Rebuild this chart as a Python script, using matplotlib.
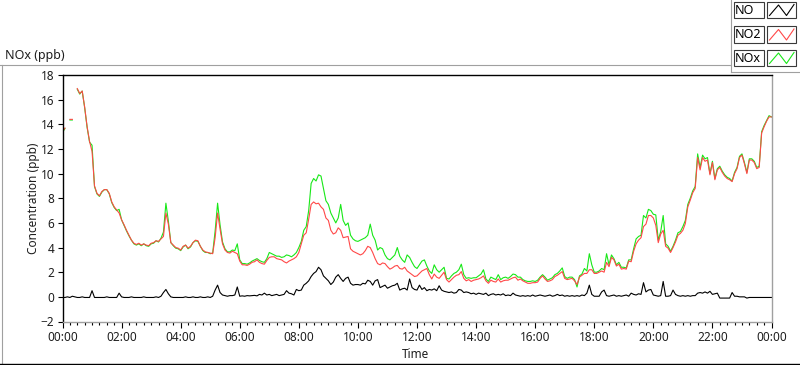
import numpy as np
import matplotlib.pyplot as plt
from matplotlib.lines import Line2D
from matplotlib.patches import Rectangle

plt.rcParams['font.family'] = ['Noto Sans', 'DejaVu Sans']

nan = np.nan

# one reading every 5 minutes, 00:00 .. 24:00 (one row = one hour)
minutes = np.arange(0, 1441, 5)

no2 = [
    13.4, 13.7, nan, 14.4, 14.4, nan, 16.9, 16.5, 16.7, 15.4, 13.8, 12.6,
    11.8, 9.0, 8.4, 8.2, 8.55, 8.7, 8.7, 8.4, 7.7, 7.3, 7.05, 6.8,
    6.25, 5.85, 5.4, 5.0, 4.6, 4.35, 4.25, 4.35, 4.2, 4.3, 4.2, 4.15,
    4.35, 4.4, 4.55, 4.5, 4.7, 4.9, 6.8, 5.9, 4.4, 4.2, 4.0, 3.95,
    3.8, 4.1, 4.2, 3.95, 4.1, 4.4, 4.6, 4.55, 4.1, 3.8, 3.65, 3.6,
    3.55, 3.5, 4.8, 6.8, 5.5, 4.3, 3.8, 3.6, 3.55, 3.7, 3.6, 3.5,
    2.9, 2.6, 2.6, 2.55, 2.65, 2.8, 2.85, 3.0, 2.8, 2.7, 2.65, 2.95,
    3.2, 3.25, 3.25, 3.1, 3.05, 3.0, 2.85, 2.75, 2.9, 3.0, 3.1, 3.25,
    3.6, 4.3, 5.0, 5.2, 6.3, 7.5, 7.7, 7.55, 7.6, 7.3, 7.1, 6.4,
    6.2, 5.4, 5.1, 5.2, 5.6, 5.4, 4.8, 4.85, 4.9, 3.9, 3.7, 3.6,
    3.5, 3.4, 3.5, 3.75, 4.1, 4.0, 3.6, 3.1, 2.7, 2.6, 2.75, 2.7,
    2.45, 2.25, 2.35, 2.5, 2.55, 2.3, 2.25, 2.4, 2.1, 1.95, 1.8, 1.65,
    1.7, 1.9, 2.1, 2.2, 2.3, 1.8, 1.45, 1.85, 1.6, 1.5, 1.75, 2.0,
    1.4, 1.2, 1.4, 1.6, 1.75, 1.8, 2.05, 1.5, 1.3, 1.4, 1.25, 1.35,
    1.4, 1.45, 1.55, 1.7, 1.3, 1.1, 1.35, 1.25, 1.2, 1.45, 1.2, 1.3,
    1.35, 1.35, 1.45, 1.55, 1.6, 1.35, 1.45, 1.3, 1.2, 1.1, 1.1, 1.15,
    1.15, 1.2, 1.5, 1.7, 1.45, 1.25, 1.3, 1.4, 1.65, 1.75, 1.9, 2.05,
    1.5, 1.4, 1.45, 1.5, 1.3, 1.0, 1.6, 1.75, 1.9, 1.9, 2.2, 2.2,
    1.9, 1.9, 2.0, 2.1, 2.0, 2.8, 2.45, 3.2, 3.0, 2.5, 2.65, 2.25,
    2.3, 2.25, 2.9, 2.85, 3.7, 4.3, 4.6, 4.8, 5.7, 5.9, 6.6, 6.6,
    6.4, 5.8, 4.4, 5.1, 5.4, 4.1, 3.95, 3.6, 4.0, 4.45, 5.0, 5.15,
    5.4, 5.95, 7.3, 7.85, 8.45, 8.8, 11.3, 10.3, 11.3, 11.0, 11.1, 9.9,
    10.9, 9.5, 10.3, 10.5, 10.1, 9.8, 9.6, 9.5, 9.35, 10.0, 10.4, 11.3,
    11.5, 10.8, 10.0, 11.1, 11.1, 10.9, 10.4, 10.5, 13.3, 13.8, 14.25, 14.6,
    14.6,
]

nox = [
    13.35, 13.65, nan, 14.35, 14.35, nan, 16.85, 16.45, 16.7, 15.35, 13.75, 12.55,
    12.3, 8.95, 8.35, 8.15, 8.5, 8.7, 8.7, 8.35, 7.65, 7.25, 7.0, 7.1,
    6.25, 5.8, 5.35, 4.95, 4.6, 4.3, 4.2, 4.3, 4.15, 4.3, 4.15, 4.1,
    4.3, 4.35, 4.55, 4.45, 4.75, 5.25, 7.6, 6.15, 4.4, 4.15, 3.95, 3.9,
    3.75, 4.05, 4.2, 3.9, 4.05, 4.4, 4.55, 4.5, 4.1, 3.75, 3.6, 3.6,
    3.5, 3.55, 5.35, 7.6, 5.85, 4.45, 3.9, 3.65, 3.65, 3.8, 3.75, 4.3,
    3.0, 2.7, 2.7, 2.65, 2.75, 2.9, 3.0, 3.1, 2.95, 2.85, 2.8, 3.1,
    3.6, 3.5, 3.4, 3.3, 3.3, 3.2, 3.25, 3.4, 3.35, 3.25, 3.4, 3.6,
    4.0, 4.5, 5.4, 5.7, 7.0, 9.2, 9.6, 9.4, 9.9, 9.8, 8.8, 7.8,
    7.5, 6.8, 6.4, 6.0, 6.4, 7.5, 6.2, 5.8, 6.0, 5.0, 4.7, 4.55,
    4.5, 4.6, 4.7, 4.8, 5.0, 5.9, 5.0, 4.6, 3.8, 4.0, 3.9, 3.4,
    3.1, 3.0, 3.2, 3.4, 4.0, 3.3, 3.0, 2.8, 3.4, 3.2, 2.8, 2.45,
    2.3, 2.6, 2.9, 3.0, 2.5, 2.1, 1.9, 2.6, 2.2, 2.0, 2.2, 2.4,
    1.5, 1.45, 1.7, 1.9, 2.0, 2.2, 2.65, 1.8, 1.5, 1.55, 1.5, 1.55,
    1.55, 1.7, 1.85, 2.2, 1.45, 1.25, 1.6, 1.5, 1.4, 1.8, 1.4, 1.55,
    1.6, 1.5, 1.65, 1.85, 1.8, 1.6, 1.6, 1.4, 1.3, 1.25, 1.25, 1.3,
    1.25, 1.35, 1.6, 1.8, 1.6, 1.35, 1.45, 1.55, 1.8, 1.9, 2.1, 2.35,
    1.65, 1.5, 1.6, 1.6, 1.4, 0.8, 1.7, 1.85, 2.3, 2.1, 3.5, 2.6,
    2.0, 2.0, 2.1, 2.3, 2.2, 3.5, 2.6, 3.4, 3.1, 2.6, 2.8, 2.4,
    2.4, 2.35, 3.0, 3.0, 3.9, 4.7, 4.9, 5.0, 6.6, 6.4, 7.1, 7.0,
    6.7, 6.65, 4.6, 5.3, 6.6, 4.3, 4.1, 3.7, 4.1, 4.6, 5.2, 5.3,
    5.7, 6.2, 7.5, 8.0, 8.6, 8.95, 11.6, 10.5, 11.5, 11.2, 11.3, 10.0,
    11.0, 9.6, 10.4, 10.6, 10.2, 9.9, 9.7, 9.6, 9.4, 10.1, 10.5, 11.4,
    11.6, 10.9, 10.1, 11.2, 11.2, 11.0, 10.5, 10.6, 13.4, 13.9, 14.3, 14.7,
    14.6,
]

no = [
    -0.05, -0.05, 0.0, -0.05, 0.05, 0.0, -0.05, -0.05, 0.0, -0.05, -0.05, -0.05,
    0.5, -0.05, -0.05, -0.05, -0.05, -0.05, 0.0, -0.05, -0.05, -0.05, -0.05, 0.3,
    0.0, -0.05, -0.05, -0.05, 0.0, -0.05, -0.05, -0.05, -0.05, 0.0, -0.05, -0.05,
    -0.05, -0.05, 0.0, -0.05, 0.05, 0.35, 0.6, 0.25, 0.0, -0.05, -0.05, -0.05,
    -0.05, -0.05, 0.0, -0.05, -0.05, 0.0, -0.05, -0.05, 0.0, -0.05, -0.05, 0.0,
    -0.05, 0.05, 0.55, 0.95, 0.35, 0.15, 0.1, 0.05, 0.1, 0.1, 0.15, 0.8,
    0.05, 0.08, 0.05, 0.1, 0.08, 0.1, 0.12, 0.08, 0.2, 0.15, 0.3, 0.15,
    0.2, 0.1, 0.15, 0.2, 0.1, 0.15, 0.2, 0.5, 0.3, 0.25, 0.15, 0.6,
    0.5, 0.55, 0.95, 1.1, 1.3, 1.65, 1.9, 2.05, 2.4, 2.2, 1.7, 1.5,
    1.3, 1.0, 1.2, 1.6, 1.8, 1.5, 1.25, 1.5, 1.6, 1.1, 0.95, 1.0,
    1.0, 0.95, 1.1, 1.05, 1.35, 1.25, 0.95, 1.3, 1.4, 0.75, 0.85, 0.95,
    0.7, 0.8, 0.9, 0.95, 1.1, 0.55, 0.65, 0.7, 0.55, 1.45, 0.75, 0.6,
    0.55, 0.95, 0.6, 0.75, 0.5, 0.6, 0.55, 0.65, 0.5, 0.9, 0.55, 0.45,
    0.4, 0.35, 0.4, 0.3, 0.35, 0.6, 0.55, 0.35, 0.4, 0.35, 0.25, 0.3,
    0.2, 0.3, 0.25, 0.2, 0.3, 0.1, 0.2, 0.25, 0.15, 0.2, 0.15, 0.25,
    0.1, 0.15, 0.1, 0.3, 0.15, 0.1, 0.05, 0.1, 0.05, 0.1, 0.05, 0.15,
    0.05, 0.1, 0.15, 0.1, 0.05, 0.1, 0.15, 0.05, 0.1, 0.2, 0.1, 0.15,
    0.05, 0.1, 0.05, 0.1, 0.05, 0.1, 0.05, 0.15, 0.1, 0.3, 0.95, 0.2,
    0.05, 0.05, 0.05, 0.4, 0.55, 0.1, 0.05, 0.1, 0.15, 0.05, 0.1, 0.05,
    0.1, 0.15, 0.05, 0.3, 0.2, 0.15, 0.25, 0.2, 1.15, 0.4, 0.55, 0.6,
    0.15, 0.1, 0.05, 0.1, 1.25, 0.05, 0.05, 0.1, 0.55, 0.2, 0.1, 0.05,
    0.1, 0.05, 0.1, 0.05, 0.1, 0.1, 0.3, 0.35, 0.3, 0.4, 0.3, 0.45,
    0.2, 0.25, 0.3, -0.1, -0.1, -0.1, -0.1, -0.1, 0.35, 0.05, 0.05, 0.0,
    0.0, 0.0, -0.1, -0.05, -0.05, -0.05, -0.05, -0.05, -0.05, -0.05, -0.05, -0.05,
    -0.05,
]

tick_hours = [0, 2, 4, 6, 8, 10, 12, 14, 16, 18, 20, 22, 24]
tick_labels = ['00:00', '02:00', '04:00', '06:00', '08:00', '10:00', '12:00',
               '14:00', '16:00', '18:00', '20:00', '22:00', '00:00']
series_names = ['NO', 'NO2', 'NOx']
series_colors = ['black', '#ff4848', '#18e818']

W, H = 800, 365
txt = '#1e1e1e'


def fx(px):
    return px / W


def fy(py):
    return 1 - py / H


fig = plt.figure(figsize=(W / 100, H / 100), dpi=100)
fig.patch.set_facecolor('white')

# panel frame (3d look like the instrument panel)
fig.add_artist(Line2D([fx(0), fx(730.5)], [fy(64.5), fy(64.5)], color='#a0a0a0', lw=0.8))
fig.add_artist(Line2D([fx(1.5), fx(1.5)], [fy(64.5), fy(364)], color='#a0a0a0', lw=0.8))
fig.add_artist(Line2D([fx(0), fx(800)], [fy(364), fy(364)], color='black', lw=1.0))

fig.text(fx(5), fy(55), 'NOx (ppb)', fontsize=9, color=txt, va='center', ha='left')

ax = fig.add_axes([fx(62.5), fy(321.5), fx(771.5) - fx(62.5), fy(75) - fy(321.5)])
ax.plot(minutes, nox, color=series_colors[2], lw=0.8)
ax.plot(minutes, no2, color=series_colors[1], lw=0.8)
ax.plot(minutes, no, color=series_colors[0], lw=0.8)

ax.set_xlim(0, 1440)
ax.set_ylim(-2, 18)
ax.set_yticks(range(-2, 19, 2))
ax.set_xticks([h * 60 for h in tick_hours])
ax.set_xticklabels(tick_labels)
ax.set_xticks(np.arange(0, 1441, 15), minor=True)
ax.tick_params(axis='x', which='major', length=4.2, width=0.8, pad=2.5,
               labelsize=8.5, labelcolor=txt)
ax.tick_params(axis='x', which='minor', length=2.4, width=0.8)
ax.tick_params(axis='y', length=3.6, width=0.8, pad=2.5, labelsize=8.5, labelcolor=txt)

ax.spines['top'].set_color('black')
ax.spines['left'].set_color('black')
ax.spines['bottom'].set_color('#a0a0a0')
ax.spines['right'].set_color('#a0a0a0')
for s in ax.spines.values():
    s.set_linewidth(1.0)

fig.text(fx(416), fy(354), 'Time', fontsize=8.5, color=txt, ha='center', va='center')
fig.text(fx(33), fy(198), 'Concentration (ppb)', fontsize=8.5, color=txt,
         ha='center', va='center', rotation=90)

# legend block in the top right corner
fig.add_artist(Line2D([fx(730.5), fx(730.5)], [fy(0), fy(72)], color='#a0a0a0', lw=0.8))
fig.add_artist(Line2D([fx(730.5), fx(800)], [fy(72), fy(72)], color='#a0a0a0', lw=0.8))
row_tops = [2, 26.5, 50]
for name, color, top in zip(series_names, series_colors, row_tops):
    bottom = top + 16
    fig.add_artist(Rectangle((fx(733.5), fy(bottom)), fx(30), fy(top) - fy(bottom),
                             facecolor='white', edgecolor='#3a3a3a', lw=0.8))
    fig.text(fx(735), fy(top + 8), name, fontsize=9, color='black', va='center', ha='left')
    fig.add_artist(Rectangle((fx(766.5), fy(bottom)), fx(29.5), fy(top) - fy(bottom),
                             facecolor='white', edgecolor='#3a3a3a', lw=0.8))
    zx = [769.5, 778.5, 786.5, 794]
    zy = [bottom - 2.5, top + 3, bottom - 2.5, top + 2.5]
    fig.add_artist(Line2D([fx(v) for v in zx], [fy(v) for v in zy], color=color, lw=0.8))

fig.savefig('out.png', dpi=100)
